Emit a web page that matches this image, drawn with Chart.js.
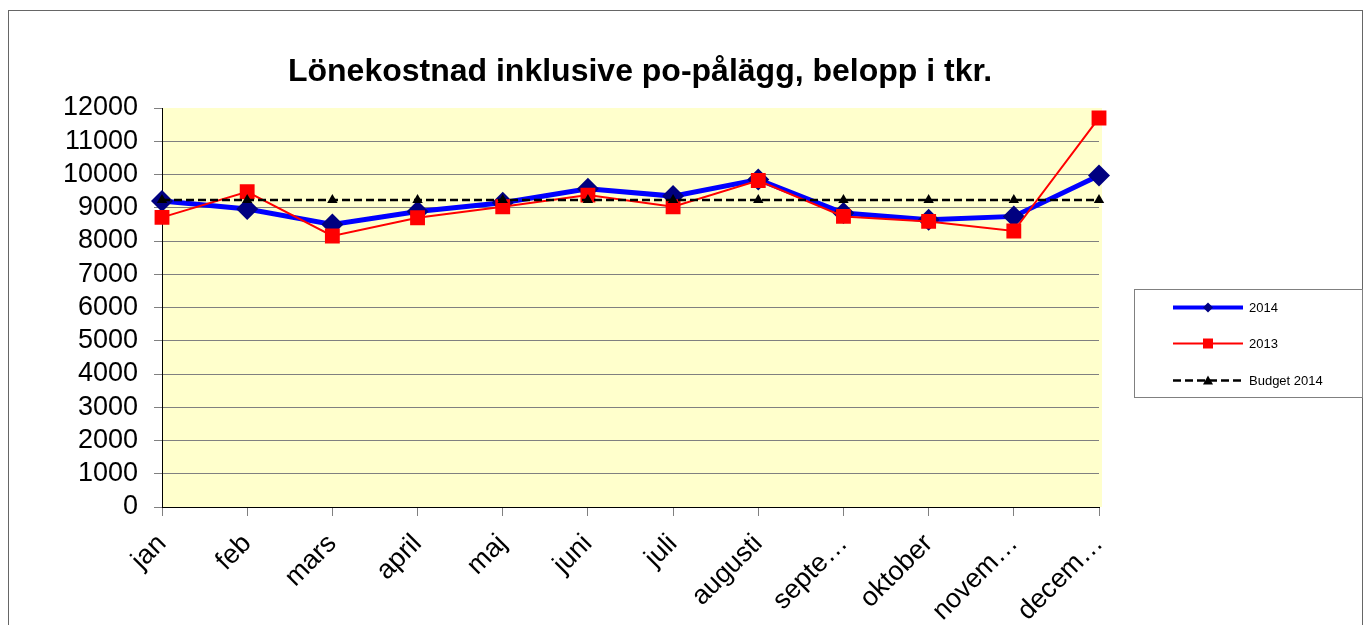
<!DOCTYPE html>
<html>
<head>
<meta charset="utf-8">
<script src="https://cdn.jsdelivr.net/npm/chart.js"></script>
<style>
  body { margin: 0; background: #fff; }
  #wrap { position: relative; width: 1365px; height: 625px; overflow: hidden; }
  #frame { position: absolute; left: 8px; top: 10px; width: 1353px; height: 700px; border: 1px solid #666; }
  canvas { position: absolute; left: 0; top: 0; }
</style>
</head>
<body>
<div id="wrap">
  <div id="frame"></div>
  <canvas id="lonChart" width="1365" height="625"></canvas>
</div>
<script>
const months = ['jan', 'feb', 'mars', 'april', 'maj', 'juni', 'juli', 'augusti', 'septe…', 'oktober', 'novem…', 'decem…'];
const values2014 = [9200, 8960, 8500, 8890, 9150, 9570, 9350, 9850, 8840, 8640, 8740, 9970];
const values2013 = [8710, 9480, 8150, 8700, 9030, 9380, 9030, 9820, 8740, 8590, 8300, 11700];
const budget2014 = [9230, 9230, 9230, 9230, 9230, 9230, 9230, 9230, 9230, 9230, 9230, 9230];
const seriesNames = ['2014', '2013', 'Budget 2014'];
const yTicks = [0, 1000, 2000, 3000, 4000, 5000, 6000, 7000, 8000, 9000, 10000, 11000, 12000];
const chartTitle = 'Lönekostnad inklusive po-pålägg, belopp i tkr.';

const FONT = "'Liberation Sans', Arial, sans-serif";

// yellow plot background
const plotBg = {
    id: 'plotBg',
    beforeDraw(chart) {
        const a = chart.chartArea;
        const c = chart.ctx;
        c.save();
        c.fillStyle = '#FFFFCC';
        c.fillRect(a.left, a.top, a.right - a.left + 3, a.bottom - a.top);
        c.restore();
    }
};

// title + boxed legend on the right
const extras = {
    id: 'extras',
    afterDraw(chart) {
        const c = chart.ctx;
        c.save();
        c.fillStyle = '#000';
        c.font = 'bold 32px ' + FONT;
        c.textAlign = 'center';
        c.textBaseline = 'alphabetic';
        c.fillText(chartTitle, 640, 81);

        // legend box
        c.fillStyle = '#fff';
        c.fillRect(1134, 289, 229, 108);
        c.strokeStyle = '#808080';
        c.lineWidth = 1;
        c.strokeRect(1134.5, 289.5, 228, 108);

        const rows = [307.5, 343.5, 380.5];
        chart.data.datasets.forEach((ds, i) => {
            const y = rows[i];
            c.save();
            c.strokeStyle = ds.borderColor;
            c.lineWidth = i === 0 ? 4 : (i === 1 ? 2 : 2.5);
            c.setLineDash(ds.borderDash || []);
            c.beginPath();
            c.moveTo(1173, y);
            c.lineTo(1243, y);
            c.stroke();
            c.restore();
            c.fillStyle = ds.pointBackgroundColor;
            c.beginPath();
            if (i === 0) {
                c.moveTo(1208, y - 5); c.lineTo(1213, y); c.lineTo(1208, y + 5); c.lineTo(1203, y);
            } else if (i === 1) {
                c.rect(1203, y - 5, 10, 10);
            } else {
                c.moveTo(1208, y - 5); c.lineTo(1213, y + 4); c.lineTo(1203, y + 4);
            }
            c.closePath();
            c.fill();
            c.fillStyle = '#000';
            c.font = '13px ' + FONT;
            c.textAlign = 'left';
            c.textBaseline = 'middle';
            c.fillText(ds.label, 1249, y + 1);
        });
        c.restore();
    }
};

new Chart(document.getElementById('lonChart').getContext('2d'), {
    type: 'line',
    data: {
        labels: months,
        datasets: [
            {
                label: seriesNames[0],
                data: values2014,
                borderColor: '#0000FF',
                borderWidth: 5,
                pointStyle: 'rectRot',
                pointRadius: 11,
                pointBackgroundColor: '#000080',
                pointBorderColor: '#000080',
                pointBorderWidth: 0,
                tension: 0,
                order: 2
            },
            {
                label: seriesNames[1],
                data: values2013,
                borderColor: '#FF0000',
                borderWidth: 2,
                pointStyle: 'rect',
                pointRadius: 10.5,
                pointBackgroundColor: '#FF0000',
                pointBorderColor: '#FF0000',
                pointBorderWidth: 0,
                tension: 0,
                order: 1
            },
            {
                label: seriesNames[2],
                data: budget2014,
                borderColor: '#000000',
                borderWidth: 2.5,
                borderDash: [8, 4],
                pointStyle: 'triangle',
                pointRadius: 6,
                pointBackgroundColor: '#000000',
                pointBorderColor: '#000000',
                pointBorderWidth: 0,
                tension: 0,
                order: 0
            }
        ]
    },
    options: {
        responsive: false,
        animation: false,
        layout: { padding: { top: 108, right: 266, left: 0, bottom: 0 } },
        plugins: {
            legend: { display: false },
            title: { display: false },
            tooltip: { enabled: false }
        },
        scales: {
            x: {
                offset: false,
                grid: {
                    drawOnChartArea: false,
                    tickLength: 9,
                    tickColor: '#808080'
                },
                border: { color: '#000', width: 1 },
                ticks: {
                    autoSkip: false,
                    minRotation: 45,
                    maxRotation: 45,
                    padding: 12,
                    color: '#000',
                    font: { family: FONT, size: 27 }
                },
                afterFit(scale) { scale.height = 118; }
            },
            y: {
                min: 0,
                max: 12000,
                afterBuildTicks(scale) { scale.ticks = yTicks.map(v => ({ value: v })); },
                grid: {
                    color: ctx => (ctx.tick && ctx.tick.value === 12000) ? 'rgba(0,0,0,0)' : '#808080',
                    tickColor: '#808080',
                    tickLength: 8,
                    lineWidth: 1
                },
                border: { color: '#000', width: 1 },
                ticks: {
                    autoSkip: false,
                    padding: 16,
                    color: '#000',
                    font: { family: FONT, size: 27 },
                    callback: v => String(v)
                },
                afterFit(scale) { scale.width = 162; }
            }
        }
    },
    plugins: [plotBg, extras]
});
</script>
</body>
</html>
